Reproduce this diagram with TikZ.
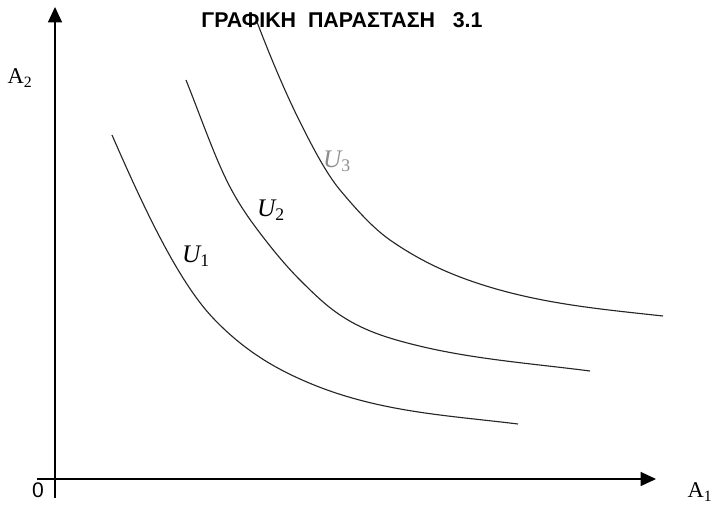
\documentclass[tikz,border=0pt]{standalone}
\usepackage{fontspec}
\setmainfont{Liberation Serif}
\setsansfont{Liberation Sans}
\usetikzlibrary{arrows.meta, positioning}

\begin{document}
\begin{tikzpicture}[x=0.025cm, y=-0.025cm,
  axis/.style={line width=1.1pt, -{Triangle[length=11pt, width=10pt]}},
  curve/.style={line width=0.8pt, black!85},
  axlabel/.style={font=\fontsize{16}{18}\selectfont, inner sep=0pt},
  ulabel/.style={font=\fontsize{18}{20}\selectfont\itshape, inner sep=0pt}]

\useasboundingbox (0,0) rectangle (714,505);

% axes
\coordinate (xstart) at (37,479);
\coordinate (xend) at (656,479);
\coordinate (ystart) at (55,498);
\coordinate (yend) at (55,7);
\draw[axis] (xstart) -- (xend);
\draw[axis] (ystart) -- (yend);

\node[axlabel, font=\sffamily\fontsize{15}{17}\selectfont] (orig) at (38,490) {0};
\node[axlabel] (a1) at (700,492) {A\textsubscript{1}};
\node[axlabel] (a2) at (20,78) {A\textsubscript{2}};

\node[inner sep=0pt, font=\sffamily\bfseries\fontsize{15.2}{17}\selectfont] (title) at (342,20)
  {ΓΡΑΦΙΚΗ\ \ ΠΑΡΑΣΤΑΣΗ\ \ \ 3.1};

% indifference curves
\draw[curve] (112,135) .. controls (146,213) and (179,282) .. (213,318)
  .. controls (242,348.5) and (271,366) .. (300,379)
  .. controls (373,412) and (445,415) .. (518,424);
\draw[curve] (186,80) .. controls (200.7,116.7) and (215.3,159.1) .. (230,187)
  .. controls (241,207.9) and (252,222.7) .. (263,237)
  .. controls (275.3,253) and (287.7,267.7) .. (300,280)
  .. controls (311,291) and (322,301.75) .. (333,310)
  .. controls (355.3,326.75) and (377.7,334.75) .. (400,341)
  .. controls (463.3,358.7) and (526.7,362.8) .. (590,371);
\draw[curve] (257,22) .. controls (271.3,59.3) and (285.7,93.3) .. (300,122)
  .. controls (313.3,148.7) and (326.7,174) .. (340,190)
  .. controls (356.7,210) and (373.3,228.3) .. (390,240)
  .. controls (413.3,256.3) and (436.7,268.1) .. (460,277)
  .. controls (527.7,302.7) and (595.3,308.6) .. (663,316);

\node[ulabel] (u1) at (196,256) {U\textsubscript{\upshape 1}};
\node[ulabel] (u2) at (271,210) {U\textsubscript{\upshape 2}};
\node[ulabel, black!45] (u3) at (337,161) {U\textsubscript{\upshape 3}};

\end{tikzpicture}
\end{document}
